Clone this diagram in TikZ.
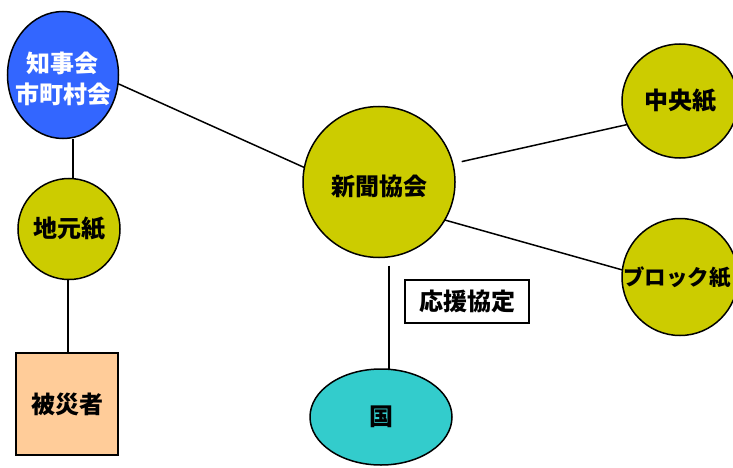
\documentclass[tikz,border=0pt]{standalone}
\usepackage{fontspec}
\setmainfont{Noto Sans CJK JP}
\usetikzlibrary{shapes.geometric}
\definecolor{cblue}{RGB}{51,102,255}
\definecolor{colive}{RGB}{204,204,0}
\definecolor{cteal}{RGB}{51,204,204}
\definecolor{corange}{RGB}{255,204,153}
\tikzset{
  lbl/.style={font=\fontsize{24}{32}\selectfont\bfseries, inner sep=0pt},
  oval/.style={ellipse, draw=black, line width=1.5pt, inner sep=0pt},
  conn/.style={draw=black, line width=1.5pt},
  boxnode/.style={rectangle, draw=black, line width=1.5pt, inner sep=0pt}
}
\begin{document}
\begin{tikzpicture}[x=1pt,y=-1pt]
\useasboundingbox (0,0) rectangle (733,468);
% shapes (empty), connectors drawn before fill via separate order
\path (63,75) node[ellipse, minimum width=111pt, minimum height=127pt, inner sep=0pt] (chiji) {};
\path (69,229) node[ellipse, minimum width=102pt, minimum height=101pt, inner sep=0pt] (jimoto) {};
\path (67,404) node[rectangle, minimum width=102pt, minimum height=102pt, inner sep=0pt] (higai) {};
\path (379,182) node[ellipse, minimum width=152pt, minimum height=151pt, inner sep=0pt] (shinbun) {};
\path (680,101) node[ellipse, minimum width=116pt, minimum height=114pt, inner sep=0pt] (chuo) {};
\path (680,277) node[ellipse, minimum width=116pt, minimum height=117pt, inner sep=0pt] (block) {};
\path (381,417) node[ellipse, minimum width=142pt, minimum height=96pt, inner sep=0pt] (kuni) {};
% connectors
\draw[conn] (chiji.-9) -- (shinbun.169);
\draw[conn, shorten <=9pt] (shinbun.14) -- (chuo.204);
\draw[conn] (shinbun.-30) -- (block.173);
\draw[conn] ([xshift=4pt]jimoto.north) -- ([xshift=4pt]jimoto.north |- chiji.south);
\draw[conn] ([xshift=-1pt]jimoto.south) -- ([xshift=-1pt]jimoto.south |- higai.north);
\draw[conn] ([xshift=10pt,yshift=-8pt]shinbun.south) -- ([xshift=10pt,yshift=-8pt]shinbun.south |- kuni.north);
% filled shapes over line ends
\node[oval, fill=cblue, minimum width=111pt, minimum height=127pt] (chijiS) at (chiji) {};
\node[oval, fill=colive, minimum width=102pt, minimum height=101pt] (jimotoS) at (jimoto) {};
\node[boxnode, fill=corange, minimum width=102pt, minimum height=102pt] (higaiS) at (higai) {};
\node[oval, fill=colive, minimum width=152pt, minimum height=151pt] (shinbunS) at (shinbun) {};
\node[oval, fill=colive, minimum width=116pt, minimum height=114pt] (chuoS) at (chuo) {};
\node[oval, fill=colive, minimum width=116pt, minimum height=117pt] (blockS) at (block) {};
\node[oval, fill=cteal, minimum width=142pt, minimum height=96pt] (kuniS) at (kuni) {};
\node[boxnode, fill=white, minimum width=124pt, minimum height=43pt] (kyotei) at (467,301.5) {};
% labels
\node[lbl, text=white, align=center] (chijiT) at ([yshift=-4pt]chiji.center) {知事会\\[-1pt]市町村会};
\node[lbl] (jimotoT) at (jimoto.center) {地元紙};
\node[lbl] (higaiT) at (higai.center) {被災者};
\node[lbl] (shinbunT) at ([yshift=-4pt]shinbun.center) {新聞協会};
\node[lbl] (chuoT) at (chuo.center) {中央紙};
\node[lbl, font=\fontsize{21.5}{28}\selectfont\bfseries] (blockT) at ([xshift=-3pt]block.center) {ブロック紙};
\node[lbl] (kuniT) at (kuni.center) {国};
\node[lbl] (kyoteiT) at (kyotei.center) {応援協定};
\end{tikzpicture}
\end{document}
